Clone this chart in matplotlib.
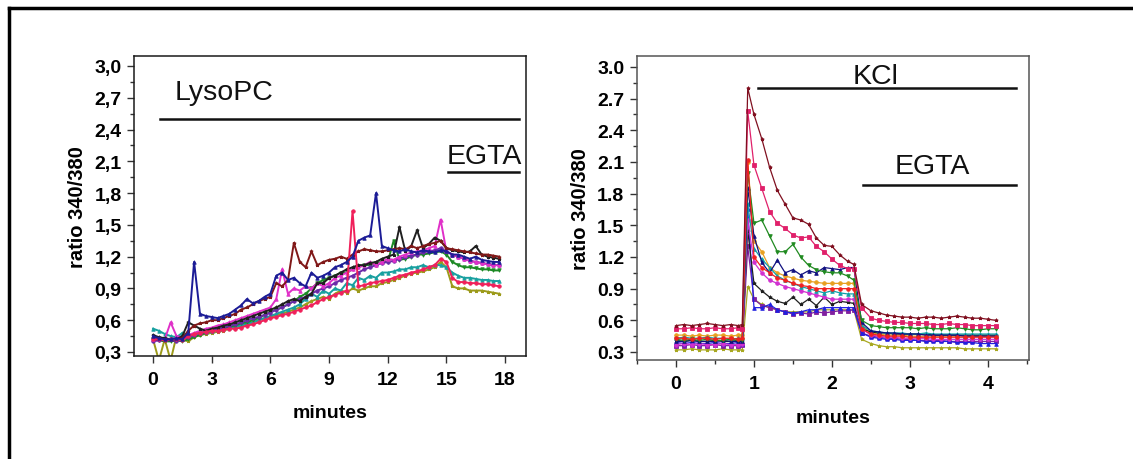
import numpy as np
import matplotlib
matplotlib.use("Agg")
import matplotlib.pyplot as plt
from matplotlib.lines import Line2D
from matplotlib.ticker import MultipleLocator, FuncFormatter

plt.rcParams['font.family'] = ['Liberation Sans', 'DejaVu Sans']

# ---------------- Left panel (LysoPC) data ----------------
t_left = np.round(np.arange(60) * 0.3, 1)  # minutes, 0 .. 17.7

lyso_navy = [0.45, 0.43, 0.42, 0.42, 0.43, 0.42, 0.48, 1.15, 0.66, 0.64,
             0.63, 0.62, 0.64, 0.66, 0.70, 0.74, 0.80, 0.76, 0.78, 0.82,
             0.85, 1.02, 1.05, 0.98, 1.00, 0.95, 0.92, 1.05, 1.00, 1.02,
             1.05, 1.10, 1.12, 1.15, 1.20, 1.35, 1.38, 1.40, 1.80, 1.30,
             1.28, 1.26, 1.25, 1.27, 1.25, 1.24, 1.26, 1.25, 1.24, 1.26,
             1.25, 1.22, 1.22, 1.20, 1.18, 1.20, 1.17, 1.16, 1.15, 1.15]
lyso_brown = [0.42, 0.42, 0.41, 0.42, 0.42, 0.43, 0.50, 0.55, 0.57, 0.58,
              0.60, 0.60, 0.62, 0.64, 0.66, 0.70, 0.72, 0.75, 0.78, 0.80,
              0.82, 0.95, 0.92, 0.98, 1.33, 1.15, 1.10, 1.25, 1.12, 1.15,
              1.17, 1.18, 1.20, 1.18, 1.22, 1.25, 1.27, 1.26, 1.25, 1.25,
              1.26, 1.27, 1.28, 1.27, 1.30, 1.28, 1.30, 1.32, 1.33, 1.35,
              1.28, 1.27, 1.26, 1.25, 1.24, 1.23, 1.22, 1.22, 1.21, 1.20]
lyso_black = [0.46, 0.44, 0.43, 0.42, 0.42, 0.45, 0.58, 0.55, 0.52, 0.50,
              0.52, 0.53, 0.55, 0.56, 0.58, 0.60, 0.62, 0.64, 0.66, 0.68,
              0.70, 0.72, 0.75, 0.78, 0.80, 0.78, 0.82, 0.85, 0.95, 0.95,
              1.00, 1.02, 1.05, 1.08, 1.10, 1.12, 1.12, 1.14, 1.15, 1.18,
              1.20, 1.22, 1.48, 1.25, 1.30, 1.45, 1.28, 1.32, 1.38, 1.35,
              1.28, 1.26, 1.25, 1.24, 1.25, 1.30, 1.22, 1.20, 1.19, 1.18]
lyso_magenta = [0.42, 0.43, 0.42, 0.58, 0.45, 0.44, 0.46, 0.48, 0.50, 0.52,
                0.53, 0.55, 0.56, 0.58, 0.60, 0.62, 0.64, 0.66, 0.68, 0.70,
                0.72, 0.80, 1.08, 0.85, 0.90, 0.88, 0.92, 0.90, 0.95, 0.92,
                0.95, 1.00, 1.02, 1.05, 1.08, 1.10, 1.12, 1.15, 1.12, 1.15,
                1.18, 1.17, 1.20, 1.22, 1.24, 1.25, 1.26, 1.28, 1.30, 1.55,
                1.25, 1.22, 1.20, 1.18, 1.16, 1.15, 1.14, 1.13, 1.12, 1.12]
lyso_green = [0.42, 0.41, 0.40, 0.40, 0.41, 0.40, 0.42, 0.44, 0.46, 0.48,
              0.50, 0.51, 0.52, 0.54, 0.55, 0.57, 0.58, 0.60, 0.62, 0.65,
              0.68, 0.70, 0.72, 0.75, 0.78, 0.82, 0.85, 0.90, 0.95, 0.98,
              1.00, 1.02, 1.05, 1.05, 1.08, 1.10, 1.12, 1.12, 1.14, 1.15,
              1.15, 1.35, 1.17, 1.18, 1.20, 1.22, 1.22, 1.23, 1.24, 1.25,
              1.22, 1.15, 1.12, 1.10, 1.10, 1.09, 1.08, 1.08, 1.07, 1.07]
lyso_teal = [0.52, 0.50, 0.47, 0.45, 0.44, 0.48, 0.46, 0.47, 0.48, 0.49,
             0.50, 0.51, 0.52, 0.53, 0.54, 0.55, 0.57, 0.58, 0.60, 0.62,
             0.64, 0.66, 0.68, 0.70, 0.72, 0.75, 0.80, 0.85, 0.82, 0.88,
             0.85, 0.90, 0.88, 0.95, 0.93, 1.00, 0.98, 1.02, 1.00, 1.05,
             1.05, 1.06, 1.08, 1.08, 1.10, 1.10, 1.12, 1.10, 1.12, 1.12,
             1.10, 1.05, 1.02, 1.00, 1.00, 0.99, 0.98, 0.98, 0.97, 0.97]
lyso_purple = [0.40, 0.41, 0.42, 0.42, 0.40, 0.42, 0.44, 0.46, 0.48, 0.49,
               0.50, 0.52, 0.53, 0.55, 0.56, 0.58, 0.60, 0.62, 0.63, 0.65,
               0.67, 0.70, 0.72, 0.75, 0.78, 0.80, 0.82, 0.85, 0.88, 0.90,
               0.92, 0.95, 0.98, 1.00, 1.02, 1.05, 1.08, 1.10, 1.12, 1.14,
               1.15, 1.16, 1.18, 1.20, 1.21, 1.22, 1.24, 1.25, 1.26, 1.28,
               1.25, 1.22, 1.20, 1.18, 1.16, 1.15, 1.14, 1.13, 1.12, 1.12]
lyso_olive = [0.42, 0.22, 0.42, 0.22, 0.45, 0.42, 0.40, 0.44, 0.46, 0.47,
              0.48, 0.49, 0.50, 0.52, 0.53, 0.55, 0.56, 0.58, 0.60, 0.62,
              0.63, 0.65, 0.66, 0.68, 0.70, 0.72, 0.75, 0.78, 0.80, 0.82,
              0.80, 0.85, 0.88, 0.86, 0.90, 0.88, 0.90, 0.92, 0.92, 0.95,
              0.96, 0.98, 1.00, 1.02, 1.04, 1.05, 1.06, 1.08, 1.10, 1.15,
              1.10, 0.92, 0.90, 0.90, 0.88, 0.88, 0.88, 0.87, 0.86, 0.85]
lyso_red = [0.42, 0.42, 0.41, 0.42, 0.42, 0.41, 0.45, 0.47, 0.48, 0.49,
            0.50, 0.50, 0.51, 0.52, 0.52, 0.53, 0.55, 0.56, 0.58, 0.60,
            0.62, 0.63, 0.65, 0.66, 0.68, 0.70, 0.72, 0.74, 0.77, 0.80,
            0.82, 0.84, 0.86, 0.88, 1.63, 0.92, 0.93, 0.95, 0.96, 0.97,
            0.98, 1.00, 1.02, 1.03, 1.05, 1.06, 1.08, 1.10, 1.12, 1.18,
            1.15, 1.00, 0.96, 0.96, 0.95, 0.95, 0.94, 0.94, 0.93, 0.92]

left_series = [
    (lyso_olive, '#9c9a1a', '*'),
    (lyso_teal, '#18a0a0', '^'),
    (lyso_green, '#1d8a25', 'v'),
    (lyso_purple, '#6a2aa8', 'o'),
    (lyso_magenta, '#e030c8', '^'),
    (lyso_black, '#202020', '*'),
    (lyso_brown, '#801818', '*'),
    (lyso_red, '#f0205a', 'o'),
    (lyso_navy, '#1c1c96', '^'),
]

# ---------------- Right panel (KCl) data ----------------
t_right = [0.0, 0.1, 0.2, 0.3, 0.4, 0.5, 0.6, 0.7, 0.8, 0.85,
           0.92,
           1.0, 1.1, 1.2, 1.3, 1.4, 1.5, 1.6, 1.7, 1.8, 1.9, 2.0, 2.1, 2.2,
           2.28, 2.38,
           2.5, 2.6, 2.7, 2.8, 2.9, 3.0, 3.1, 3.2, 3.3, 3.4, 3.5, 3.6, 3.7,
           3.8, 3.9, 4.0, 4.1]

kcl_maroon = ([0.55, 0.56, 0.55, 0.56, 0.57, 0.56, 0.55, 0.56, 0.55, 0.56]
              + [2.80]
              + [2.55, 2.32, 2.05, 1.83, 1.70, 1.57, 1.55, 1.51, 1.38, 1.31, 1.30, 1.22, 1.16]
              + [1.13, 0.75]
              + [0.69, 0.67, 0.65, 0.64, 0.63, 0.63, 0.62, 0.63, 0.63, 0.62, 0.63, 0.64,
                 0.63, 0.62, 0.62, 0.61, 0.60])
kcl_crimson = ([0.52, 0.52, 0.53, 0.52, 0.52, 0.53, 0.52, 0.52, 0.53, 0.52]
               + [2.58]
               + [2.07, 1.85, 1.63, 1.52, 1.47, 1.41, 1.38, 1.39, 1.30, 1.25, 1.18, 1.12, 1.09]
               + [1.09, 0.72]
               + [0.62, 0.60, 0.59, 0.58, 0.58, 0.57, 0.57, 0.57, 0.56, 0.56, 0.57, 0.56,
                  0.56, 0.55, 0.55, 0.55, 0.55])
kcl_green = ([0.42, 0.41, 0.42, 0.41, 0.42, 0.41, 0.41, 0.42, 0.41, 0.41]
             + [2.00]
             + [1.52, 1.55, 1.40, 1.25, 1.25, 1.32, 1.20, 1.12, 1.08, 1.06, 1.05, 1.05, 1.02]
             + [0.98, 0.60]
             + [0.55, 0.54, 0.53, 0.53, 0.53, 0.53, 0.52, 0.53, 0.52, 0.52, 0.52, 0.53,
                0.52, 0.51, 0.51, 0.52, 0.52])
kcl_navy = ([0.40, 0.40, 0.41, 0.40, 0.40, 0.40, 0.41, 0.40, 0.40, 0.40]
            + [1.85]
            + [1.40, 1.15, 1.05, 1.17, 1.05, 1.08, 1.03, 1.07, 1.05, 1.10, 1.09, 1.08, 1.10]
            + [1.10, 0.58]
            + [0.50, 0.49, 0.48, 0.48, 0.47, 0.47, 0.47, 0.46, 0.46, 0.46, 0.46, 0.46,
               0.45, 0.45, 0.45, 0.45, 0.45])
kcl_teal = ([0.43, 0.44, 0.43, 0.43, 0.44, 0.43, 0.43, 0.42, 0.43, 0.43]
            + [1.70]
            + [1.28, 1.18, 1.10, 1.02, 0.98, 0.95, 0.92, 0.90, 0.88, 0.86, 0.88, 0.86, 0.85]
            + [0.85, 0.55]
            + [0.50, 0.49, 0.48, 0.48, 0.48, 0.47, 0.47, 0.48, 0.47, 0.47, 0.47, 0.47,
               0.47, 0.47, 0.47, 0.47, 0.47])
kcl_orange = ([0.46, 0.46, 0.45, 0.46, 0.45, 0.46, 0.46, 0.45, 0.46, 0.46]
              + [2.10]
              + [1.35, 1.25, 1.10, 1.05, 1.02, 1.00, 0.98, 0.97, 0.96, 0.95, 0.95, 0.95, 0.95]
              + [0.95, 0.55]
              + [0.48, 0.47, 0.46, 0.46, 0.46, 0.45, 0.45, 0.45, 0.45, 0.45, 0.45, 0.45,
                 0.45, 0.45, 0.45, 0.45, 0.45])
kcl_violet = ([0.37, 0.38, 0.37, 0.38, 0.37, 0.37, 0.38, 0.37, 0.37, 0.38]
              + [1.55]
              + [1.15, 1.05, 0.98, 0.95, 0.92, 0.90, 0.88, 0.86, 0.84, 0.82, 0.80, 0.80, 0.80]
              + [0.80, 0.52]
              + [0.46, 0.45, 0.44, 0.44, 0.43, 0.43, 0.43, 0.43, 0.42, 0.42, 0.42, 0.42,
                 0.42, 0.42, 0.42, 0.42, 0.42])
kcl_black = ([0.41, 0.40, 0.41, 0.40, 0.40, 0.41, 0.40, 0.40, 0.41, 0.40]
             + [1.45]
             + [0.95, 0.88, 0.82, 0.78, 0.76, 0.82, 0.75, 0.80, 0.74, 0.82, 0.75, 0.78, 0.77]
             + [0.76, 0.52]
             + [0.49, 0.48, 0.48, 0.47, 0.47, 0.47, 0.47, 0.47, 0.46, 0.46, 0.46, 0.46,
                0.46, 0.46, 0.46, 0.46, 0.46])
kcl_blue = ([0.39, 0.38, 0.39, 0.38, 0.38, 0.39, 0.38, 0.38, 0.39, 0.38]
            + [1.65]
            + [0.72, 0.72, 0.75, 0.70, 0.68, 0.67, 0.68, 0.70, 0.70, 0.72, 0.72, 0.72, 0.72]
            + [0.72, 0.48]
            + [0.44, 0.43, 0.42, 0.42, 0.41, 0.41, 0.41, 0.40, 0.40, 0.40, 0.40, 0.39,
               0.39, 0.39, 0.38, 0.38, 0.38])
kcl_purple = ([0.36, 0.36, 0.37, 0.36, 0.36, 0.37, 0.36, 0.36, 0.36, 0.37]
              + [1.30]
              + [0.80, 0.74, 0.72, 0.70, 0.68, 0.66, 0.67, 0.66, 0.68, 0.67, 0.68, 0.69, 0.69]
              + [0.70, 0.48]
              + [0.45, 0.44, 0.43, 0.43, 0.42, 0.42, 0.41, 0.41, 0.41, 0.41, 0.40, 0.40,
                 0.40, 0.40, 0.40, 0.40, 0.40])
kcl_olive = ([0.32, 0.32, 0.33, 0.32, 0.32, 0.32, 0.33, 0.32, 0.32, 0.32]
             + [0.92]
             + [0.80, 0.75, 0.72, 0.70, 0.68, 0.68, 0.68, 0.68, 0.70, 0.70, 0.70, 0.70, 0.70]
             + [0.70, 0.42]
             + [0.38, 0.36, 0.35, 0.35, 0.34, 0.34, 0.34, 0.34, 0.34, 0.34, 0.34, 0.34,
                0.33, 0.33, 0.33, 0.33, 0.33])
kcl_red = ([0.43, 0.43, 0.42, 0.43, 0.43, 0.42, 0.43, 0.43, 0.42, 0.43]
           + [2.12]
           + [1.20, 1.10, 1.05, 1.00, 0.98, 0.95, 0.93, 0.92, 0.90, 0.90, 0.90, 0.90, 0.90]
           + [0.90, 0.52]
           + [0.47, 0.46, 0.45, 0.45, 0.45, 0.44, 0.44, 0.44, 0.44, 0.44, 0.44, 0.44,
              0.44, 0.44, 0.44, 0.44, 0.44])

right_series = [
    (kcl_orange, '#e8a020', 'o'),
    (kcl_olive, '#a8a820', '*'),
    (kcl_purple, '#8020a0', 's'),
    (kcl_blue, '#2020e0', '^'),
    (kcl_black, '#202020', '*'),
    (kcl_violet, '#d030d0', 'o'),
    (kcl_teal, '#10a0a8', '^'),
    (kcl_navy, '#101080', '^'),
    (kcl_green, '#208a20', 'v'),
    (kcl_red, '#f02020', 'o'),
    (kcl_crimson, '#e0206a', 's'),
    (kcl_maroon, '#801020', '*'),
]

y_ticks = [0.3, 0.6, 0.9, 1.2, 1.5, 1.8, 2.1, 2.4, 2.7, 3.0]

# ---------------- Figure ----------------
fig = plt.figure(figsize=(11.33, 4.60), dpi=100)
fig.patch.set_facecolor('white')

axL = fig.add_axes([0.1183, 0.2239, 0.3460, 0.6521])
axR = fig.add_axes([0.5622, 0.2152, 0.3460, 0.6609])

for ys, c, m in left_series:
    axL.plot(t_left, ys, color=c, lw=1.4, marker=m, ms=2.5, mew=0.6)

for ys, c, m in right_series:
    axR.plot(t_right, ys, color=c, lw=0.9, marker=m, ms=2.6, mew=0.6)

# Left axes styling
axL.set_xlim(-0.97, 19.07)
axL.set_ylim(0.262, 3.094)
axL.set_xticks([0, 3, 6, 9, 12, 15, 18])
axL.set_yticks(y_ticks)
axL.yaxis.set_minor_locator(MultipleLocator(0.15))
axL.yaxis.set_major_formatter(FuncFormatter(lambda v, p: f"{v:.1f}".replace('.', ',')))
axL.set_xlabel('minutes', fontsize=14, fontweight='bold', labelpad=11)
axL.set_ylabel('ratio 340/380', fontsize=14.5, fontweight='bold', labelpad=5)

# Right axes styling
axR.set_xlim(-0.5, 4.526)
axR.set_ylim(0.224, 3.104)
axR.set_xticks([0, 1, 2, 3, 4])
axR.xaxis.set_minor_locator(MultipleLocator(0.5))
axR.set_yticks(y_ticks)
axR.yaxis.set_minor_locator(MultipleLocator(0.15))
axR.yaxis.set_major_formatter(FuncFormatter(lambda v, p: f"{v:.1f}"))
axR.set_xlabel('minutes', fontsize=14, fontweight='bold', labelpad=12)
axR.set_ylabel('ratio 340/380', fontsize=14.5, fontweight='bold', labelpad=5)

for ax, sc in ((axL, '#1a1a1a'), (axR, '#555555')):
    for s in ax.spines.values():
        s.set_color(sc)
        s.set_linewidth(1.1)
    ax.tick_params(axis='both', which='major', direction='out', length=5,
                   width=1, color='#333333', labelsize=14, pad=4)
    ax.tick_params(axis='both', which='minor', direction='out', length=3,
                   width=1, color='#333333')
    ax.tick_params(axis='x', which='major', pad=6)
    for lab in ax.get_xticklabels() + ax.get_yticklabels():
        lab.set_fontweight('bold')

# Annotations (treatment bars)
axL.plot([0.36, 18.7], [2.5, 2.5], color='#111111', lw=1.8)
axL.text(1.1, 2.75, 'LysoPC', fontsize=20.5, va='center', ha='left', color='#111111')
axL.text(15.0, 2.03, 'EGTA', fontsize=20.5, va='bottom', ha='left', color='#111111')
axL.plot([15.1, 18.7], [2.0, 2.0], color='#111111', lw=1.8)

axR.plot([1.05, 4.36], [2.80, 2.80], color='#111111', lw=1.8)
axR.text(2.56, 2.79, 'KCl', fontsize=20.5, va='bottom', ha='center', color='#111111')
axR.plot([2.4, 4.36], [1.88, 1.88], color='#111111', lw=1.8)
axR.text(3.29, 1.94, 'EGTA', fontsize=20.5, va='bottom', ha='center', color='#111111')

# Outer frame (top and left edges visible)
fig.add_artist(Line2D([9 / 1133, 1.0], [1 - 9 / 460, 1 - 9 / 460],
                      transform=fig.transFigure, color='black', lw=2.5))
fig.add_artist(Line2D([9 / 1133, 9 / 1133], [0.0, 1 - 9 / 460],
                      transform=fig.transFigure, color='black', lw=2.5))

fig.savefig('out.png', dpi=100, facecolor='white')
